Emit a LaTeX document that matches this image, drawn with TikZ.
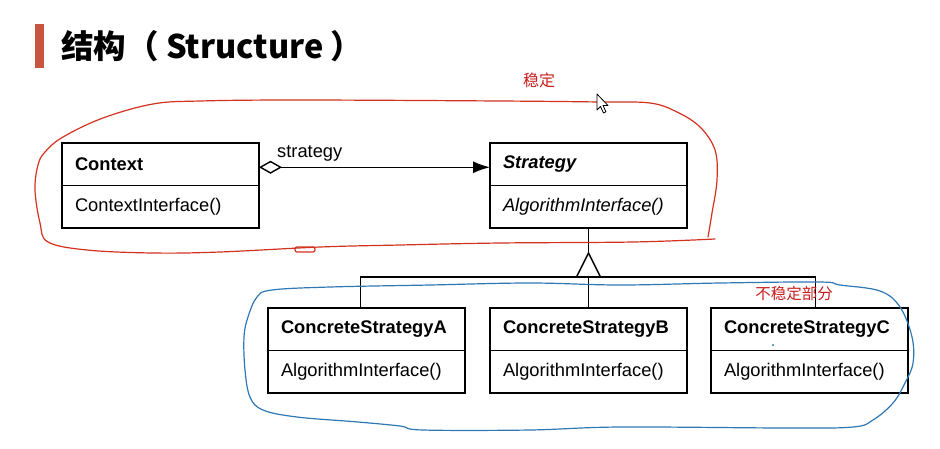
\documentclass[tikz,border=0pt]{standalone}
\usepackage{fontspec}
\setmainfont{Liberation Sans}
\newfontfamily\cjk{Noto Sans CJK SC}
\usetikzlibrary{arrows.meta, positioning}

\definecolor{titlebar}{HTML}{C8553D}
\definecolor{stablered}{HTML}{D2321E}
\definecolor{notered}{HTML}{C81E1E}
\definecolor{unstableblue}{HTML}{2F78B4}

\newcommand\umlsize{\fontsize{18.3}{21}\selectfont}

\begin{document}
\begin{tikzpicture}[
  x=1pt, y=-1pt,
  classname/.style = {draw, line width=1.5pt, outer sep=0pt, minimum height=42.5pt,
                      text width=171pt, inner xsep=13pt, inner ysep=0pt, align=left,
                      font=\bfseries\umlsize},
  classops/.style  = {classname, font=\umlsize},
  link/.style      = {line width=1.4pt},
  hand/.style      = {line width=1.2pt, line cap=round, line join=round},
  note/.style      = {inner sep=0pt, text=notered}
]
  \useasboundingbox (0,0) rectangle (940,448);
  \fill[white] (0,0) rectangle (940,448);

  % Title
  \fill[titlebar] (35,24) rectangle (44,68);
  \node[anchor=west, inner sep=0pt, font=\cjk\bfseries\fontsize{32.5}{36}\selectfont] (title) at (61,46) {结构（ Structure ）};

  % Context
  \node[classname, anchor=north west] (context) at (62,143) {Context};
  \node[classops, below=0pt of context] (contextops) {ContextInterface()};

  % Strategy
  \node[classname, font=\bfseries\itshape\umlsize, right=231pt of context] (strategy) {Strategy};
  \node[classops, font=\itshape\umlsize, below=0pt of strategy] (strategyops) {AlgorithmInterface()};

  % Concrete strategies
  \node[classname, below=80pt of strategyops] (csb) {ConcreteStrategyB};
  \node[classops, below=0pt of csb] (csbops) {AlgorithmInterface()};
  \node[classname, left=25pt of csb] (csa) {ConcreteStrategyA};
  \node[classops, below=0pt of csa] (csaops) {AlgorithmInterface()};
  \node[classname, right=24pt of csb] (csc) {ConcreteStrategyC};
  \node[classops, below=0pt of csc] (cscops) {AlgorithmInterface()};

  % context -> strategy (aggregation)
  \draw[link, {Diamond[open, length=23pt, width=13pt]}-{Latex[length=17pt, width=12pt]}]
    ([yshift=-3pt]context.east) -- ([yshift=-3pt]strategy.west);
  \node[inner sep=0pt, anchor=base west, font=\umlsize] (rolename) at ([xshift=18pt, yshift=7pt]context.east) {strategy};

  % inheritance
  \coordinate (apex) at ([yshift=-25pt]strategyops.south);
  \coordinate (fork) at ([yshift=-49pt]strategyops.south);
  \coordinate (csatop) at ([xshift=-6pt]csa.north);
  \coordinate (csctop) at ([xshift=6pt]csc.north);
  \draw[link] (strategyops.south) -- (apex);
  \draw[link, line join=miter] (apex) -- ([xshift=-12pt]fork) -- ([xshift=12pt]fork) -- cycle;
  \draw[link] (csb.north) -- (fork);
  \draw[link] (csatop) |- (csctop |- fork) -- (csctop);

  % stable part (red hand loop)
  \draw[hand, stablered] plot[smooth, tension=0.6] coordinates {
    (715,239) (633,242) (500,243) (400,245) (320,247) (220,252) (153,253) (87,250)
    (48,242) (40,223) (35,190) (38,165) (45,152) (63,137) (103,118) (153,104)
    (200,101) (300,100) (500,101) (600,102) (650,103) (677,112) (700,127)
    (715,150) (717,180) (712,213) (708,237)};
  \draw[hand, stablered, rounded corners=2pt] (295,247) rectangle (315,252);

  % unstable part (blue hand loop)
  \draw[hand, unstableblue] plot[smooth cycle, tension=0.6] coordinates {
    (330,287) (430,285) (530,283) (620,285) (720,283) (820,282) (840,285)
    (880,291) (900,307) (912,337) (913,363) (905,383) (893,403) (873,420)
    (853,427) (787,428) (620,427) (530,430) (423,430) (400,426) (358,422)
    (297,417) (263,410) (250,397) (245,370) (244,337) (248,317) (257,297)
    (272,290)};
  \fill[unstableblue] (773,345) circle (1.2pt);

  % notes
  \node[note, font=\cjk\fontsize{16}{18}\selectfont] (stablenote) at (539,80) {稳定};
  \node[note, font=\cjk\fontsize{15.5}{18}\selectfont] (unstablenote) at (794,294) {不稳定部分};

  % mouse pointer
  \draw[fill=white, line width=0.8pt, line join=round]
    (597,94) -- ++(0,16) -- ++(3.5,-3.5) -- ++(3,6.5) -- ++(2.5,-1.2)
    -- ++(-3,-6.3) -- ++(5,0) -- cycle;
\end{tikzpicture}
\end{document}
